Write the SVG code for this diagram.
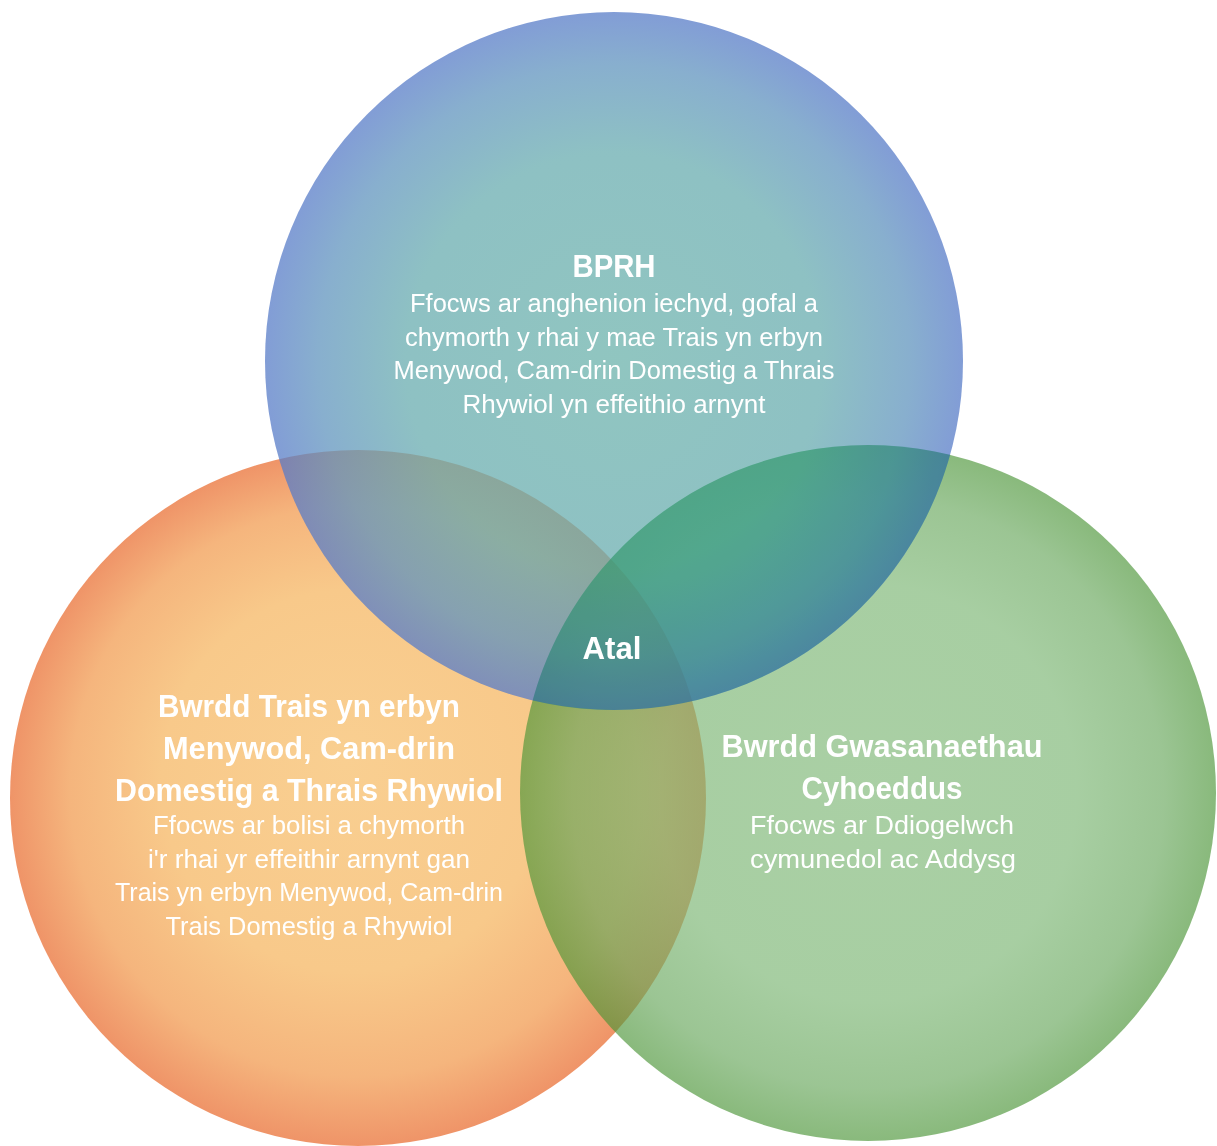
<svg xmlns="http://www.w3.org/2000/svg" width="1217" height="1146" viewBox="0 0 1217 1146">
  <defs>
    <radialGradient id="gradL" gradientUnits="userSpaceOnUse" cx="358" cy="798" r="348" fx="345" fy="760">
      <stop offset="0" stop-color="#f9cf91"/>
      <stop offset="0.55" stop-color="#f8c98a"/>
      <stop offset="0.82" stop-color="#f5b57d"/>
      <stop offset="1" stop-color="#ef9468"/>
    </radialGradient>
    <radialGradient id="gradG" gradientUnits="userSpaceOnUse" cx="868" cy="793" r="348">
      <stop offset="0" stop-color="#7cb674"/>
      <stop offset="0.6" stop-color="#78b470"/>
      <stop offset="0.85" stop-color="#66a65a"/>
      <stop offset="1" stop-color="#4a9436"/>
    </radialGradient>
    <radialGradient id="gradT" gradientUnits="userSpaceOnUse" cx="614" cy="361" r="349">
      <stop offset="0" stop-color="#6bb2ab"/>
      <stop offset="0.6" stop-color="#68acaf"/>
      <stop offset="0.85" stop-color="#6094be"/>
      <stop offset="1" stop-color="#587cc8"/>
    </radialGradient>
    <style>
      .title { font-family: "Liberation Sans", Arial, sans-serif; font-weight: bold; font-size: 31px; fill: #ffffff; text-anchor: middle; }
      .body { font-family: "Liberation Sans", Arial, sans-serif; font-size: 25.5px; fill: #ffffff; text-anchor: middle; }
    </style>
  </defs>
  <rect x="0" y="0" width="1217" height="1146" fill="#ffffff"/>

  <g id="connectors"/>

  <g id="node-left">
    <circle cx="358" cy="798" r="348" fill="url(#gradL)"/>
    <text class="title" x="309" y="717" textLength="302" lengthAdjust="spacingAndGlyphs">Bwrdd Trais yn erbyn</text>
    <text class="title" x="309" y="759" textLength="292" lengthAdjust="spacingAndGlyphs">Menywod, Cam-drin</text>
    <text class="title" x="309" y="801" textLength="388" lengthAdjust="spacingAndGlyphs">Domestig a Thrais Rhywiol</text>
    <text class="body" x="309" y="834" textLength="312" lengthAdjust="spacingAndGlyphs">Ffocws ar bolisi a chymorth</text>
    <text class="body" x="309" y="868" textLength="322" lengthAdjust="spacingAndGlyphs">i'r rhai yr effeithir arnynt gan</text>
    <text class="body" x="309" y="901" textLength="388" lengthAdjust="spacingAndGlyphs">Trais yn erbyn Menywod, Cam-drin</text>
    <text class="body" x="309" y="935" textLength="287" lengthAdjust="spacingAndGlyphs">Trais Domestig a Rhywiol</text>
  </g>

  <g id="node-right">
    <circle cx="868" cy="793" r="348" fill="url(#gradG)" fill-opacity="0.65"/>
    <text class="title" x="882" y="757" textLength="321" lengthAdjust="spacingAndGlyphs">Bwrdd Gwasanaethau</text>
    <text class="title" x="882" y="799" textLength="161" lengthAdjust="spacingAndGlyphs">Cyhoeddus</text>
    <text class="body" x="882" y="834" textLength="264" lengthAdjust="spacingAndGlyphs">Ffocws ar Ddiogelwch</text>
    <text class="body" x="883" y="868" textLength="266" lengthAdjust="spacingAndGlyphs">cymunedol ac Addysg</text>
  </g>

  <g id="node-top">
    <circle cx="614" cy="361" r="349" fill="url(#gradT)" fill-opacity="0.75"/>
    <text class="title" x="614" y="277" textLength="83" lengthAdjust="spacingAndGlyphs">BPRH</text>
    <text class="body" x="614" y="312" textLength="408" lengthAdjust="spacingAndGlyphs">Ffocws ar anghenion iechyd, gofal a</text>
    <text class="body" x="614" y="346" textLength="418" lengthAdjust="spacingAndGlyphs">chymorth y rhai y mae Trais yn erbyn</text>
    <text class="body" x="614" y="379" textLength="441" lengthAdjust="spacingAndGlyphs">Menywod, Cam-drin Domestig a Thrais</text>
    <text class="body" x="614" y="413" textLength="303" lengthAdjust="spacingAndGlyphs">Rhywiol yn effeithio arnynt</text>
  </g>

  <g id="overlap-top-right">
    <path d="M 532.6 700.4 A 349 349 0 0 0 950.2 454.8 A 348 348 0 0 0 532.6 700.4 Z" fill="#b3f0d6" style="mix-blend-mode: multiply"/>
  </g>

  <g id="node-center">
    <text class="title" x="612" y="659" textLength="59" lengthAdjust="spacingAndGlyphs">Atal</text>
  </g>
</svg>
